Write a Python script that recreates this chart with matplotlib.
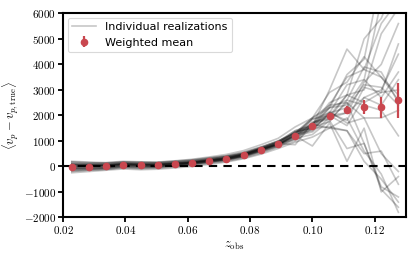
import matplotlib
matplotlib.use("Agg")
import matplotlib.pyplot as plt
from matplotlib.ticker import FuncFormatter, MultipleLocator

plt.rcParams["mathtext.fontset"] = "cm"

# redshift bins (bin centres)
z_bins = [0.0228, 0.0283, 0.0338, 0.0393, 0.0449, 0.0503, 0.0559, 0.0614, 0.0669, 0.0724,
          0.0779, 0.0835, 0.0890, 0.0945, 0.1000, 0.1055, 0.1111, 0.1166, 0.1221, 0.1276]

mean_offset = [-30, -10, 0, 60, 40, 40, 90, 140, 220, 310,
               440, 650, 870, 1210, 1580, 1990, 2200, 2340, 2310, 2590]
mean_err = [30, 30, 30, 30, 30, 30, 30, 30, 30, 35,
            40, 45, 50, 60, 80, 100, 150, 280, 430, 690]

realizations = [
    [-100, -80, -60, 20, 0, -20, 40, 100, 180, 260, 400, 600, 820, 1250, 1400, 2100, 1800, 3100, 2900, 4800],
    [50, 80, 70, 120, 100, 110, 150, 200, 280, 380, 500, 720, 950, 1200, 1850, 2100, 3200, 3400, 6500, 6800],
    [-200, -150, -120, -60, -90, -70, -20, 40, 120, 200, 330, 520, 760, 1100, 1250, 1800, 700, 900, -900, -1600],
    [150, 130, 140, 180, 170, 160, 210, 260, 340, 420, 560, 760, 1000, 1300, 1900, 2300, 3600, 4200, 7500, 8000],
    [-50, -30, 10, 50, 20, 30, 80, 130, 210, 290, 420, 640, 900, 1350, 1500, 2300, 2600, 3900, 3700, 2500],
    [100, 60, 50, 100, 80, 90, 130, 170, 250, 330, 460, 680, 880, 1050, 1650, 1500, 1400, 200, -500, -1400],
    [-150, -120, -80, -20, -50, -30, 30, 80, 160, 250, 380, 580, 800, 1200, 1350, 1900, 2100, 3300, 4000, 5600],
    [0, 20, 30, 90, 60, 60, 100, 160, 240, 330, 480, 700, 950, 1250, 1850, 2000, 2800, 2500, 2900, 3000],
    [-250, -200, -150, -100, -130, -110, -60, 0, 80, 170, 300, 480, 700, 950, 1150, 1500, 1900, 600, -300, -1800],
    [200, 170, 150, 200, 180, 170, 220, 280, 370, 470, 620, 850, 1100, 1550, 1900, 2900, 3300, 4300, 3500, 2800],
    [-80, -60, -40, 10, -10, 0, 50, 110, 190, 270, 410, 620, 850, 1250, 1550, 2150, 1700, 1900, 500, -200],
    [80, 100, 110, 150, 130, 140, 170, 220, 300, 390, 520, 740, 1000, 1300, 1900, 2400, 3500, 3800, 5600, 6500],
    [-120, -100, -70, -10, -30, -10, 40, 90, 170, 260, 390, 600, 830, 1100, 1550, 1750, 2600, 2400, 2200, 1200],
    [30, 10, 30, 80, 70, 70, 110, 160, 240, 330, 470, 690, 920, 1350, 1600, 2400, 2500, 900, -800, -1200],
    [-30, 0, 20, 70, 40, 50, 100, 150, 230, 320, 450, 660, 890, 1150, 1750, 1900, 2800, 3000, 5200, 6200],
    [120, 90, 80, 130, 110, 100, 160, 210, 290, 380, 500, 700, 940, 1350, 1500, 2000, 1600, 2700, 3000, 4400],
    [-180, -140, -110, -40, -70, -50, 10, 60, 140, 230, 360, 560, 780, 1000, 1500, 1550, 1400, 500, 600, -700],
    [60, 50, 60, 110, 90, 80, 120, 180, 260, 350, 490, 710, 960, 1400, 1650, 2500, 2800, 5000, 5800, 7500],
    [-60, -40, -20, 40, 20, 20, 70, 120, 200, 290, 430, 650, 880, 1150, 1700, 1850, 2500, 1900, 1900, 2200],
    [180, 150, 120, 170, 150, 140, 190, 240, 320, 410, 540, 760, 980, 1400, 1600, 2300, 2400, 3400, 2700, 3700],
    [-100, -70, -50, 30, 10, 10, 60, 120, 200, 280, 420, 630, 870, 1250, 1450, 2100, 2300, 3200, 3100, 2400],
    [20, 40, 50, 100, 80, 70, 120, 170, 250, 340, 480, 690, 900, 850, 1700, 2000, 2100, 2700, 2400, 3400],
    [-20, 10, 0, 60, 50, 30, 80, 140, 230, 300, 440, 670, 850, 1300, 1600, 3000, 4600, 3800, 3500, 2600],
    [90, 60, 40, 90, 60, 70, 110, 150, 220, 320, 450, 640, 860, 1200, 800, 1700, 200, 1500, -1000, -400],
]

RED = "#c9474f"


def math_fmt(fmt):
    return FuncFormatter(lambda v, pos: "$" + format(v, fmt) + "$")


def main() -> None:
    fig, ax = plt.subplots(figsize=(4.15, 2.57), dpi=100)
    fig.subplots_adjust(left=0.152, right=0.978, top=0.948, bottom=0.154)

    for k, series in enumerate(realizations):
        ax.plot(z_bins, series, color="k", alpha=0.22, lw=1.2,
                label="Individual realizations" if k == 0 else None, zorder=2)

    ax.axhline(0, color="k", ls=(0, (4, 3)), lw=1.5, zorder=3)

    ax.errorbar(z_bins, mean_offset, yerr=mean_err, fmt="o", color=RED, ms=4.5,
                elinewidth=1.6, capsize=0, label="Weighted mean", zorder=4)

    ax.set_xlim(0.02, 0.13)
    ax.set_ylim(-2000, 6000)
    ax.xaxis.set_major_locator(MultipleLocator(0.02))
    ax.yaxis.set_major_locator(MultipleLocator(1000))
    ax.xaxis.set_major_formatter(math_fmt(".2f"))
    ax.yaxis.set_major_formatter(math_fmt(".0f"))
    ax.tick_params(direction="out", length=3.5, width=1.3, labelsize=8, pad=1.5)
    for spine in ax.spines.values():
        spine.set_linewidth(1.5)

    ax.set_xlabel(r"$z_\mathrm{obs}$", fontsize=9, labelpad=2)
    ax.set_ylabel(r"$\langle v_p - v_{p,\mathrm{true}}\rangle$", fontsize=9, labelpad=2)

    leg = ax.legend(loc="upper left", fontsize=8, frameon=True, fancybox=True,
                    borderaxespad=0.4, handlelength=2.2)
    leg.get_frame().set_edgecolor("#d0d0d0")
    leg.get_frame().set_linewidth(0.8)

    fig.savefig("out.png", dpi=100)
    plt.close(fig)


if __name__ == "__main__":
    main()
